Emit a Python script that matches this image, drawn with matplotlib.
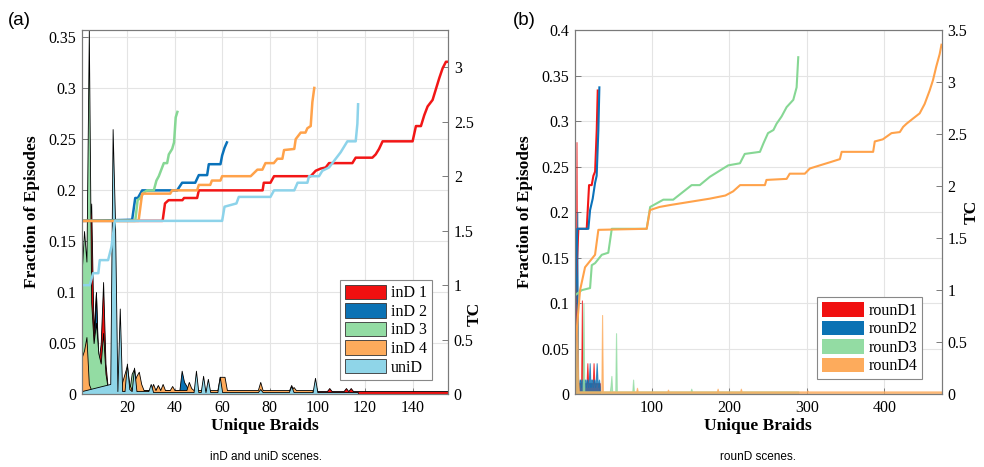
import numpy as np
import matplotlib
matplotlib.use("Agg")
import matplotlib.pyplot as plt
from matplotlib.patches import Patch

plt.rcParams['font.family'] = ['Liberation Serif', 'DejaVu Serif']

# ---------------- (a) inD / uniD : fraction of episodes per braid ----------------
ind1_x = [1, 2, 3, 4, 5, 6, 7, 8, 9, 10, 11, 12, 13, 88, 89, 90, 104, 105, 106, 111, 112, 113, 114, 115, 155]
ind1_y = [0.02, 0.05, 0.12, 0.16, 0.187, 0.06, 0.10, 0.03, 0.05, 0.11, 0.03, 0.005, 0.003, 0.003, 0.009, 0.003,
          0.003, 0.006, 0.003, 0.003, 0.006, 0.003, 0.006, 0.003, 0.003]
ind2_x = [1, 2, 3, 4, 5, 6, 7, 8, 9, 10, 11, 12, 42, 43, 44, 45, 46, 62]
ind2_y = [0.11, 0.13, 0.09, 0.10, 0.05, 0.04, 0.10, 0.02, 0.02, 0.01, 0.006, 0.003, 0.003, 0.023, 0.012, 0.008, 0.003, 0.003]
ind3_x = [1, 2, 3, 4, 5, 6, 7, 8, 9, 10, 11, 12, 21, 22, 23, 24, 32, 33, 34, 42]
ind3_y = [0.12, 0.16, 0.13, 0.357, 0.09, 0.05, 0.07, 0.04, 0.03, 0.06, 0.02, 0.005, 0.003, 0.02, 0.025, 0.004,
          0.004, 0.008, 0.004, 0.004]
ind4_x = [1, 2, 3, 4, 5, 17, 18, 19, 20, 21, 22, 23, 24, 25, 26, 27, 30, 31, 32, 33, 34, 35, 36, 38, 39, 40,
          45, 46, 47, 48, 58, 59, 60, 61, 62, 75, 76, 77, 89, 90, 91, 97, 98]
ind4_y = [0.036, 0.043, 0.056, 0.01, 0.004, 0.004, 0.012, 0.02, 0.028, 0.01, 0.004, 0.012, 0.018, 0.022, 0.01,
          0.004, 0.004, 0.01, 0.004, 0.009, 0.004, 0.01, 0.004, 0.004, 0.008, 0.004, 0.004, 0.012, 0.006, 0.004,
          0.004, 0.017, 0.017, 0.017, 0.004, 0.004, 0.012, 0.004, 0.004, 0.007, 0.004, 0.004, 0.004]
unid_x = [1, 13, 14, 15, 16, 17, 18, 19, 20, 21, 22, 23, 24, 29, 30, 31, 48, 49, 50, 51, 52, 53, 54, 55, 56,
          58, 59, 60, 75, 76, 77, 88, 89, 90, 98, 99, 100, 117]
unid_y = [0.003, 0.01, 0.26, 0.17, 0.003, 0.084, 0.003, 0.003, 0.03, 0.005, 0.003, 0.026, 0.003, 0.003, 0.01,
          0.002, 0.002, 0.023, 0.002, 0.002, 0.018, 0.002, 0.015, 0.002, 0.002, 0.002, 0.017, 0.002, 0.002,
          0.005, 0.002, 0.002, 0.008, 0.002, 0.002, 0.016, 0.002, 0.002]

# (a) TC per braid
tc1_x = [1, 35, 36, 37.5, 43.3, 44, 49.5, 50.2, 77, 77.5, 80.3, 81.8, 97.2, 99.3, 101.4, 103.5, 104.9, 114.7,
         116.1, 123.1, 124.5, 125.9, 127.4, 140, 141.4, 143.5, 144.9, 146.3, 148.4, 149.8, 151.2, 152.6, 154, 155]
tc1_y = [1.59, 1.59, 1.75, 1.78, 1.78, 1.80, 1.80, 1.87, 1.87, 1.94, 1.94, 2.00, 2.00, 2.05, 2.07, 2.08, 2.12,
         2.12, 2.17, 2.17, 2.20, 2.25, 2.32, 2.32, 2.46, 2.46, 2.56, 2.64, 2.70, 2.80, 2.90, 2.99, 3.05, 3.05]
tc2_x = [1, 22.2, 23.5, 24.6, 26.4, 41.1, 43.2, 48.7, 50.2, 53.7, 54.4, 59.3, 60, 61, 62]
tc2_y = [1.59, 1.60, 1.80, 1.80, 1.87, 1.87, 1.94, 1.94, 2.01, 2.01, 2.11, 2.11, 2.19, 2.26, 2.31]
tc3_x = [1, 23.5, 24.5, 25.6, 27.1, 28.5, 31.3, 32.4, 33.4, 35.5, 36.9, 37.6, 39, 39.8, 40.5, 41.2]
tc3_y = [1.59, 1.59, 1.78, 1.80, 1.85, 1.87, 1.87, 1.96, 2.00, 2.12, 2.12, 2.20, 2.25, 2.31, 2.54, 2.59]
tc4_x = [1, 24.9, 26.4, 38.2, 39, 49.5, 50.2, 55, 55.7, 59.3, 60, 72, 74.8, 76.9, 78.2, 81.7, 83.2, 85.3, 86,
         90.3, 90.9, 93, 95, 95.8, 97.2, 97.9, 98.7]
tc4_y = [1.59, 1.59, 1.84, 1.84, 1.87, 1.87, 1.92, 1.92, 1.96, 1.96, 2.00, 2.00, 2.06, 2.06, 2.12, 2.12, 2.16,
         2.16, 2.24, 2.25, 2.34, 2.40, 2.40, 2.44, 2.46, 2.68, 2.81]
tcu_x = [1.6, 4.4, 5.8, 8.0, 8.6, 12.1, 13.5, 14.4, 15, 60, 61, 66, 67, 80.3, 81.8, 90.3, 91.7, 95.8, 96.5,
         100.7, 102.1, 104.9, 106.3, 108.4, 109.8, 111.2, 112.6, 116.1, 116.8, 117.1]
tcu_y = [1.00, 1.00, 1.11, 1.11, 1.23, 1.23, 1.35, 1.50, 1.59, 1.59, 1.72, 1.75, 1.81, 1.81, 1.87, 1.87, 1.94,
         1.94, 2.00, 2.00, 2.05, 2.08, 2.12, 2.18, 2.22, 2.27, 2.32, 2.32, 2.48, 2.66]

# ---------------- (b) rounD ----------------
r1_x = [1, 2, 3, 4, 5, 9, 10, 11, 12, 16, 17, 18, 24, 25, 26, 33]
r1_y = [0.01, 0.02, 0.277, 0.02, 0.012, 0.012, 0.103, 0.012, 0.012, 0.012, 0.034, 0.012, 0.012, 0.034, 0.012, 0.012]
r2_x = list(range(1, 34))
r2_y = [0.01, 0.03, 0.06, 0.2, 0.016, 0.008, 0.016, 0.016, 0.008, 0.016, 0.016, 0.008, 0.016, 0.016, 0.008,
        0.016, 0.016, 0.008, 0.016, 0.034, 0.008, 0.016, 0.016, 0.008, 0.016, 0.016, 0.008, 0.016, 0.034,
        0.016, 0.008, 0.016, 0.008]
r3_x = [1, 2, 3, 4, 5, 11, 12, 13, 46, 47, 48, 49, 53, 54, 55, 75, 76, 77, 150, 151, 152, 289]
r3_y = [0.04, 0.06, 0.03, 0.02, 0.003, 0.003, 0.1, 0.003, 0.003, 0.01, 0.02, 0.003, 0.003, 0.067, 0.003, 0.003,
        0.016, 0.003, 0.003, 0.006, 0.003, 0.003]
r4_x = [1, 2, 3, 4, 5, 6, 35, 36, 37, 80, 81, 82, 120, 121, 122, 184, 185, 186, 214, 215, 216, 300, 301, 302, 474]
r4_y = [0.06, 0.07, 0.05, 0.087, 0.02, 0.003, 0.003, 0.087, 0.003, 0.003, 0.007, 0.003, 0.003, 0.005, 0.003,
        0.003, 0.006, 0.003, 0.003, 0.006, 0.003, 0.003, 0.004, 0.003, 0.003]

rtc1_x = [1, 3, 5.4, 16.2, 19.2, 22.6, 24.8, 27, 29.1, 30.4]
rtc1_y = [0.9, 1.2, 1.59, 1.59, 2.01, 2.01, 2.10, 2.14, 2.54, 2.92]
rtc2_x = [1, 2, 4, 18.3, 20.5, 23.9, 26.9, 29, 31.2, 32.5]
rtc2_y = [0.75, 1.0, 1.59, 1.59, 1.77, 1.88, 2.03, 2.10, 2.54, 2.95]
rtc3_x = [1, 9.8, 20.5, 22.7, 27, 35.6, 44, 48.5, 93.5, 98, 115, 127.7, 151.5, 162, 175, 198.7, 213.8, 220,
          239.6, 244, 250, 257, 261, 267.5, 274, 282.6, 286.9, 289]
rtc3_y = [0.95, 1.0, 1.02, 1.24, 1.26, 1.34, 1.36, 1.59, 1.59, 1.80, 1.87, 1.87, 2.01, 2.01, 2.09, 2.20, 2.22,
          2.31, 2.33, 2.41, 2.51, 2.54, 2.60, 2.67, 2.76, 2.83, 2.95, 3.24]
rtc4_x = [1, 3.3, 7.6, 14, 26.9, 31.2, 93.5, 97.8, 110, 125, 150, 175, 195, 205, 214, 246, 248, 274, 278, 297.5,
          304, 316.9, 330, 342.7, 345, 385.6, 387.7, 398, 409.3, 420, 424.3, 428.6, 437, 445.6, 452, 458.5,
          462.8, 467, 471.4, 473.7]
rtc4_y = [0.5, 0.62, 1.0, 1.22, 1.34, 1.58, 1.59, 1.77, 1.80, 1.82, 1.85, 1.88, 1.91, 1.95, 2.01, 2.01, 2.06,
          2.07, 2.12, 2.12, 2.17, 2.20, 2.23, 2.26, 2.33, 2.33, 2.43, 2.45, 2.51, 2.52, 2.57, 2.60, 2.65, 2.70,
          2.79, 2.92, 3.02, 3.15, 3.27, 3.36]

labels_a = ['inD 1', 'inD 2', 'inD 3', 'inD 4', 'uniD']
labels_b = ['rounD1', 'rounD2', 'rounD3', 'rounD4']

fill_cols = ['#f01010', '#0b72b4', '#93dca3', '#fdab5c', '#8fd5e8']
line_cols = ['#f21616', '#0a72ba', '#86d794', '#ffa24a', '#8dd3ea']
grid_col = '#e4e4e4'
spine_col = '#7a7a7a'


def style_axes(ax, ax2):
    for a in (ax, ax2):
        for s in a.spines.values():
            s.set_color(spine_col)
            s.set_linewidth(0.8)
        a.tick_params(direction='in', length=4, width=0.7, color=spine_col, labelsize=11.5, pad=4)
    ax.grid(True, color=grid_col, linewidth=0.8)
    ax.set_axisbelow(True)


fig = plt.figure(figsize=(9.84, 4.67), dpi=100)

# ---- panel (a) ----
ax = fig.add_axes([0.083, 0.156, 0.3726, 0.7794])
fx = [ind1_x, ind2_x, ind3_x, ind4_x, unid_x]
fy = [ind1_y, ind2_y, ind3_y, ind4_y, unid_y]
for xs, ys, c in zip(fx, fy, fill_cols):
    ax.fill_between(xs, 0, ys, facecolor=c, edgecolor='black', linewidth=0.6)
ax.set_xlim(1, 155)
ax.set_ylim(0, 0.357)
ax.set_xticks([20, 40, 60, 80, 100, 120, 140])
ax.set_yticks(np.arange(0, 0.351, 0.05))
ax.set_yticklabels(['0', '0.05', '0.1', '0.15', '0.2', '0.25', '0.3', '0.35'])
ax.set_xlabel('Unique Braids', fontsize=12.5, fontweight='bold', labelpad=2)
ax.set_ylabel('Fraction of Episodes', fontsize=12.5, fontweight='bold', labelpad=6)

ax2 = ax.twinx()
tx = [tc1_x, tc2_x, tc3_x, tc4_x, tcu_x]
ty = [tc1_y, tc2_y, tc3_y, tc4_y, tcu_y]
for xs, ys, c in zip(tx, ty, line_cols):
    ax2.plot(xs, ys, color=c, linewidth=1.8)
ax2.set_ylim(0, 3.34)
ax2.set_yticks(np.arange(0, 3.01, 0.5))
ax2.set_yticklabels(['0', '0.5', '1', '1.5', '2', '2.5', '3'])
ax2.set_ylabel('TC', fontsize=12.5, fontweight='bold', rotation=90)
ax2.yaxis.set_label_coords(1.05, 0.22)
style_axes(ax, ax2)
handles = [Patch(facecolor=c, edgecolor='#333333', linewidth=0.6) for c in fill_cols]
leg = ax2.legend(handles, labels_a, loc='lower right', bbox_to_anchor=(0.977, 0.016), fontsize=11.5,
                 handlelength=2.6, handleheight=1.0, labelspacing=0.12, handletextpad=0.3,
                 borderpad=0.3, fancybox=False, framealpha=1, edgecolor='#888888')
leg.get_frame().set_linewidth(0.8)

# ---- panel (b) ----
bx = fig.add_axes([0.5843, 0.156, 0.3727, 0.7794])
gx = [r1_x, r2_x, r3_x, r4_x]
gy = [r1_y, r2_y, r3_y, r4_y]
for xs, ys, c in zip(gx, gy, fill_cols[:4]):
    bx.fill_between(xs, 0, ys, facecolor=c, edgecolor=c, linewidth=0.8, alpha=0.75)
bx.set_xlim(1, 474)
bx.set_ylim(0, 0.4)
bx.set_xticks([100, 200, 300, 400])
bx.set_yticks(np.arange(0, 0.401, 0.05))
bx.set_yticklabels(['0', '0.05', '0.1', '0.15', '0.2', '0.25', '0.3', '0.35', '0.4'])
bx.set_xlabel('Unique Braids', fontsize=12.5, fontweight='bold', labelpad=2)
bx.set_ylabel('Fraction of Episodes', fontsize=12.5, fontweight='bold', labelpad=6)

bx2 = bx.twinx()
rx = [rtc1_x, rtc2_x, rtc3_x, rtc4_x]
ry = [rtc1_y, rtc2_y, rtc3_y, rtc4_y]
for xs, ys, c in zip(rx, ry, line_cols[:4]):
    bx2.plot(xs, ys, color=c, linewidth=1.5)
bx2.set_ylim(0, 3.5)
bx2.set_yticks(np.arange(0, 3.51, 0.5))
bx2.set_yticklabels(['0', '0.5', '1', '1.5', '2', '2.5', '3', '3.5'])
bx2.set_ylabel('TC', fontsize=12.5, fontweight='bold', rotation=90)
bx2.yaxis.set_label_coords(1.06, 0.5)
style_axes(bx, bx2)
handles = [Patch(facecolor=c, edgecolor='none') for c in fill_cols[:4]]
leg = bx2.legend(handles, labels_b, loc='lower right', bbox_to_anchor=(0.968, 0.019), fontsize=11.5,
                 handlelength=2.6, handleheight=1.0, labelspacing=0.12, handletextpad=0.3,
                 borderpad=0.3, fancybox=False, framealpha=1, edgecolor='#888888')
leg.get_frame().set_linewidth(0.8)

# panel tags and captions
fig.text(0.008, 0.957, '(a)', fontsize=13.5, family='Liberation Sans', va='center')
fig.text(0.521, 0.957, '(b)', fontsize=13.5, family='Liberation Sans', va='center')
fig.text(0.27, 0.021, 'inD and uniD scenes.', fontsize=8.5, family='Liberation Sans', ha='center', va='center')
fig.text(0.77, 0.021, 'rounD scenes.', fontsize=8.5, family='Liberation Sans', ha='center', va='center')

fig.savefig('out.png', dpi=100)
